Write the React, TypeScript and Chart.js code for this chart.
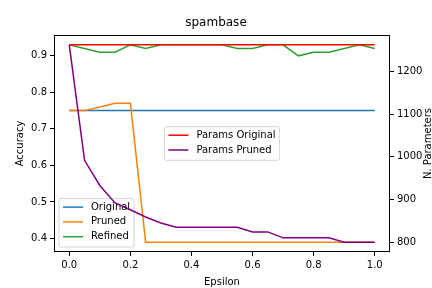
import React, { useEffect, useRef } from "react";
import { Chart, registerables } from "chart.js";

Chart.register(...registerables);

const epsilon = [0, 0.05, 0.1, 0.15, 0.2, 0.25, 0.3, 0.35, 0.4, 0.45, 0.5, 0.55, 0.6, 0.65, 0.7, 0.75, 0.8, 0.85, 0.9, 0.95, 1.0];
const original = [0.75, 0.75, 0.75, 0.75, 0.75, 0.75, 0.75, 0.75, 0.75, 0.75, 0.75, 0.75, 0.75, 0.75, 0.75, 0.75, 0.75, 0.75, 0.75, 0.75, 0.75];
const pruned = [0.75, 0.75, 0.76, 0.77, 0.77, 0.39, 0.39, 0.39, 0.39, 0.39, 0.39, 0.39, 0.39, 0.39, 0.39, 0.39, 0.39, 0.39, 0.39, 0.39, 0.39];
const refined = [0.93, 0.92, 0.91, 0.91, 0.93, 0.92, 0.93, 0.93, 0.93, 0.93, 0.93, 0.92, 0.92, 0.93, 0.93, 0.90, 0.91, 0.91, 0.92, 0.93, 0.92];
const paramsOriginal = [1263, 1263, 1263, 1263, 1263, 1263, 1263, 1263, 1263, 1263, 1263, 1263, 1263, 1263, 1263, 1263, 1263, 1263, 1263, 1263, 1263];
const paramsPruned = [1263, 992, 933, 892, 876, 859, 845, 835, 835, 835, 835, 835, 824, 824, 810, 810, 810, 810, 800, 800, 800];

const xTicks = [0, 0.2, 0.4, 0.6, 0.8, 1.0];
const accTicks = [0.4, 0.5, 0.6, 0.7, 0.8, 0.9];
const paramTicks = [800, 900, 1000, 1100, 1200];

const C_BLUE = "#1f77b4";
const C_ORANGE = "#ff7f0e";
const C_GREEN = "#2ca02c";
const C_RED = "#ff0000";
const C_PURPLE = "#800080";

const FONT = "'DejaVu Sans', sans-serif";

type Item = { label: string; color: string };

function drawLegend(ctx: CanvasRenderingContext2D, items: Item[], anchor: "lowerleft" | "center", area: any) {
  ctx.save();
  ctx.font = `10px ${FONT}`;
  const textW = Math.max(...items.map((i) => ctx.measureText(i.label).width));
  const w = 4 + 20 + 8 + textW + 4;
  const rowH = 14.8;
  const h = items.length * rowH + 4;
  let bx: number;
  let by: number;
  if (anchor === "lowerleft") {
    bx = area.left + 5;
    by = area.bottom - 5 - h;
  } else {
    bx = (area.left + area.right) / 2 - w / 2;
    by = (area.top + area.bottom) / 2 - h / 2;
  }
  const r = 2;
  ctx.beginPath();
  ctx.moveTo(bx + r, by);
  ctx.lineTo(bx + w - r, by);
  ctx.quadraticCurveTo(bx + w, by, bx + w, by + r);
  ctx.lineTo(bx + w, by + h - r);
  ctx.quadraticCurveTo(bx + w, by + h, bx + w - r, by + h);
  ctx.lineTo(bx + r, by + h);
  ctx.quadraticCurveTo(bx, by + h, bx, by + h - r);
  ctx.lineTo(bx, by + r);
  ctx.quadraticCurveTo(bx, by, bx + r, by);
  ctx.closePath();
  ctx.fillStyle = "rgba(255,255,255,0.8)";
  ctx.fill();
  ctx.strokeStyle = "rgba(204,204,204,0.8)";
  ctx.lineWidth = 1;
  ctx.stroke();
  items.forEach((it, i) => {
    const cy = by + 8.5 + i * rowH;
    ctx.beginPath();
    ctx.moveTo(bx + 4, cy);
    ctx.lineTo(bx + 24, cy);
    ctx.strokeStyle = it.color;
    ctx.lineWidth = 1.5;
    ctx.stroke();
    ctx.fillStyle = "#000";
    ctx.textBaseline = "middle";
    ctx.textAlign = "left";
    ctx.fillText(it.label, bx + 32, cy);
  });
  ctx.restore();
}

const legendsPlugin = {
  id: "twoLegends",
  beforeDatasetsDraw(chart: any) {
    drawLegend(
      chart.ctx,
      [
        { label: "Original", color: C_BLUE },
        { label: "Pruned", color: C_ORANGE },
        { label: "Refined", color: C_GREEN },
      ],
      "lowerleft",
      chart.chartArea
    );
  },
  afterDatasetsDraw(chart: any) {
    const a = chart.chartArea;
    const ctx = chart.ctx;
    ctx.save();
    ctx.strokeStyle = "#000";
    ctx.lineWidth = 1;
    ctx.strokeRect(Math.round(a.left) + 0.5, Math.round(a.top) + 0.5, Math.round(a.right - a.left) - 1, Math.round(a.bottom - a.top) - 1);
    ctx.restore();
    drawLegend(
      ctx,
      [
        { label: "Params Original", color: C_RED },
        { label: "Params Pruned", color: C_PURPLE },
      ],
      "center",
      a
    );
    // right axis label, reading bottom-to-top
    ctx.save();
    ctx.translate(428, (a.top + a.bottom) / 2);
    ctx.rotate(-Math.PI / 2);
    ctx.font = `10px ${FONT}`;
    ctx.fillStyle = "#000";
    ctx.textAlign = "center";
    ctx.textBaseline = "middle";
    ctx.fillText("N. Parameters", 0, 0);
    ctx.restore();
  },
};

export default function App() {
  const ref = useRef<HTMLCanvasElement>(null);
  useEffect(() => {
    document.body.style.margin = "0";
    const mk = (label: string, data: number[], color: string, axis: string, order: number) => ({
      label,
      data: data.map((v, i) => ({ x: epsilon[i], y: v })),
      borderColor: color,
      backgroundColor: color,
      borderWidth: 1.5,
      pointRadius: 0,
      tension: 0,
      yAxisID: axis,
      order,
    });
    const chart = new Chart(ref.current!, {
      type: "line",
      data: {
        datasets: [
          mk("Original", original, C_BLUE, "y", 4),
          mk("Pruned", pruned, C_ORANGE, "y", 3),
          mk("Refined", refined, C_GREEN, "y", 2),
          mk("Params Original", paramsOriginal, C_RED, "y1", 1),
          mk("Params Pruned", paramsPruned, C_PURPLE, "y1", 0),
        ],
      },
      options: {
        responsive: false,
        animation: false,
        layout: { padding: 0 },
        plugins: {
          legend: { display: false },
          tooltip: { enabled: false },
          title: {
            display: true,
            text: "spambase",
            color: "#000",
            font: { family: FONT, size: 12, weight: "normal", lineHeight: 1.2 },
            padding: { top: 16, bottom: 4.6 },
          },
        },
        scales: {
          x: {
            type: "linear",
            min: -0.05,
            max: 1.05,
            afterBuildTicks: (s: any) => {
              s.ticks = xTicks.map((v) => ({ value: v }));
            },
            afterFit: (s: any) => {
              s.height = 36;
            },
            ticks: {
              color: "#000",
              font: { family: FONT, size: 10 },
              padding: 3,
              maxRotation: 0,
              callback: (v: any) => Number(v).toFixed(1),
            },
            grid: { display: true, drawOnChartArea: false, drawTicks: true, tickLength: 4, color: "#000" },
            border: { display: false },
            title: { display: true, text: "Epsilon", color: "#000", font: { family: FONT, size: 10 }, padding: { top: 5, bottom: 0 } },
          },
          y: {
            type: "linear",
            position: "left",
            min: 0.363,
            max: 0.957,
            afterBuildTicks: (s: any) => {
              s.ticks = accTicks.map((v) => ({ value: v }));
            },
            afterFit: (s: any) => {
              s.width = 54;
            },
            ticks: {
              color: "#000",
              font: { family: FONT, size: 10 },
              padding: 3,
              callback: (v: any) => Number(v).toFixed(1),
            },
            grid: { display: true, drawOnChartArea: false, drawTicks: true, tickLength: 4, color: "#000" },
            border: { display: false },
            title: { display: true, text: "Accuracy", color: "#000", font: { family: FONT, size: 10 }, padding: { top: 14.7, bottom: 0 } },
          },
          y1: {
            type: "linear",
            position: "right",
            min: 776.85,
            max: 1286,
            afterBuildTicks: (s: any) => {
              s.ticks = paramTicks.map((v) => ({ value: v }));
            },
            afterFit: (s: any) => {
              s.width = 42;
            },
            ticks: {
              color: "#000",
              font: { family: FONT, size: 10 },
              padding: 3,
              callback: (v: any) => String(Math.round(Number(v))),
            },
            grid: { display: true, drawOnChartArea: false, drawTicks: true, tickLength: 4, color: "#000" },
            border: { display: false },
            title: { display: false },
          },
        },
      },
      plugins: [legendsPlugin],
    } as any);
    return () => chart.destroy();
  }, []);
  return <canvas ref={ref} width={432} height={288} style={{ display: "block" }} />;
}
